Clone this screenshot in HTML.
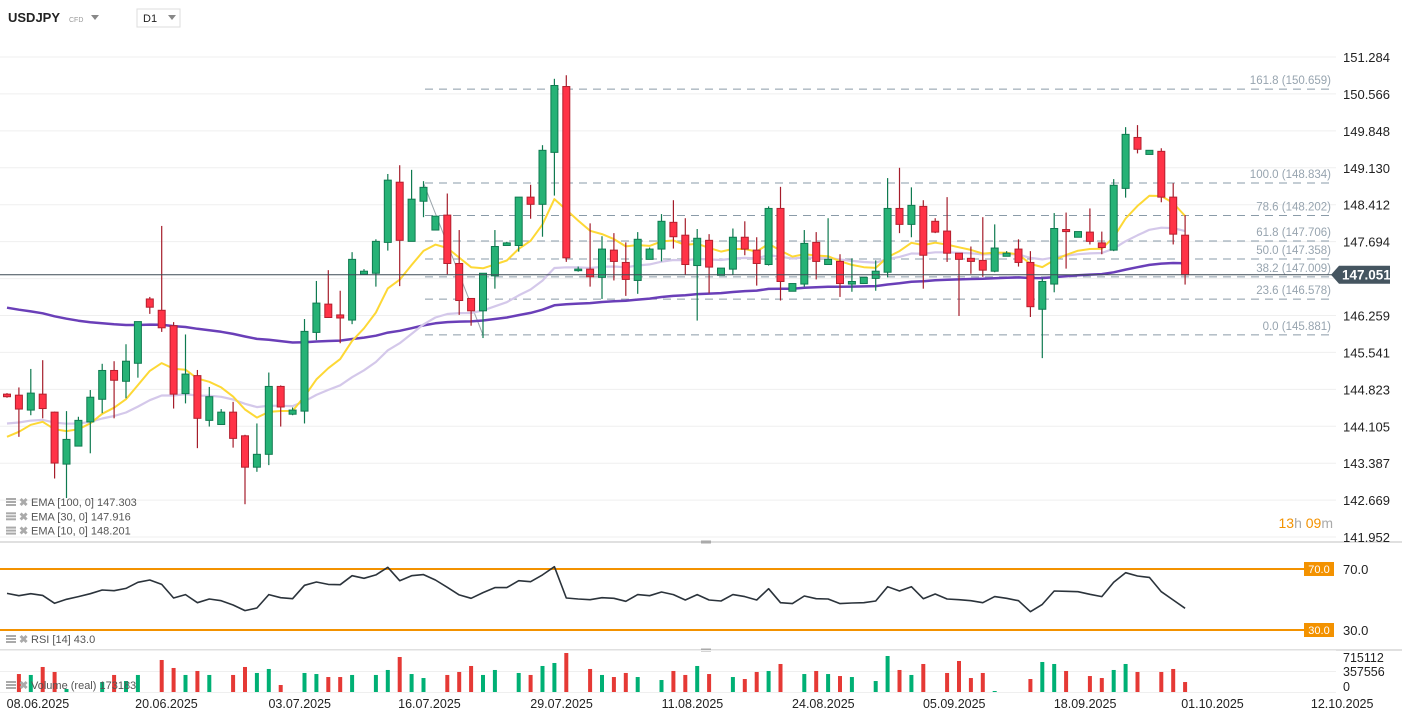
<!DOCTYPE html>
<html><head><meta charset="utf-8">
<style>
html,body{margin:0;padding:0;background:#fff;width:1402px;height:725px;overflow:hidden;font-family:"Liberation Sans",sans-serif;}
svg{position:absolute;left:0;top:0;}
text{font-family:"Liberation Sans",sans-serif;}
</style></head>
<body>
<svg id="chart" width="1402" height="725" xmlns="http://www.w3.org/2000/svg">
  <g id="grid"></g>
  <g id="fibo"></g>
  <g id="emas"></g>
  <g id="candles"></g>
  <g id="axis"></g>
  <g id="rsi"></g>
  <g id="vol"></g>
  <g id="dates"></g>
  <g>
    <text x="8" y="22" font-size="13" font-weight="bold" fill="#222">USDJPY</text>
    <text x="69" y="22" font-size="7" fill="#999">CFD</text>
    <path d="M91 15 L99 15 L95 20 Z" fill="#888"/>
    <rect x="137" y="9" width="43" height="18" fill="#fff" stroke="#ddd"/>
    <text x="143" y="22" font-size="11" fill="#222">D1</text>
    <path d="M168 15 L176 15 L172 20 Z" fill="#888"/>
  </g>
  <g>
    <text x="1333" y="528" font-size="14" text-anchor="end"><tspan fill="#f39200">13</tspan><tspan fill="#aaa">h </tspan><tspan fill="#f39200">09</tspan><tspan fill="#aaa">m</tspan></text>
  </g>
  <g id="legend"></g>
</svg>
<script>
const opens=[144.73,144.71,144.42,144.73,144.38,143.37,143.72,144.19,144.63,145.19,144.98,145.33,146.58,146.36,146.06,144.74,145.09,144.22,144.14,144.38,143.92,143.31,143.56,144.88,144.34,144.40,145.93,146.48,146.27,146.17,147.06,147.08,147.68,148.85,147.70,148.48,147.92,148.21,147.27,146.59,146.35,147.03,147.62,147.62,148.56,148.42,149.43,150.71,147.13,147.16,147.00,147.53,147.29,146.94,147.35,147.55,148.07,147.82,147.23,147.72,147.04,147.16,147.78,147.53,147.25,148.34,146.73,146.87,147.68,147.25,147.31,146.87,146.88,146.98,147.10,148.34,148.03,148.38,148.09,147.90,147.47,147.37,147.33,147.12,147.41,147.55,147.29,146.38,146.87,147.93,147.78,147.88,147.67,147.53,148.73,149.72,149.39,149.45,148.56,147.82];
const highs=[144.75,144.86,145.22,145.39,144.39,144.40,144.29,144.81,145.32,145.37,145.70,146.14,146.62,148.00,146.13,145.89,145.20,144.87,144.44,144.58,143.94,144.16,145.15,144.90,144.47,146.19,146.93,147.14,146.74,147.49,147.16,147.74,149.01,149.18,149.09,148.87,148.19,148.63,147.92,146.59,147.08,147.92,147.69,148.56,148.80,149.57,150.86,150.93,147.21,148.05,147.80,147.86,147.68,147.88,147.58,148.23,148.50,148.15,147.94,147.84,147.18,147.95,148.09,147.78,148.38,148.76,146.88,147.92,147.88,148.15,147.45,147.37,147.00,147.33,148.93,149.13,148.75,148.50,148.15,148.56,147.47,147.60,148.17,148.03,147.51,147.74,147.51,146.98,148.25,148.26,147.89,148.34,147.89,148.91,149.92,149.96,149.47,149.51,148.83,148.21];
const lows=[144.66,143.90,144.32,144.26,143.09,142.71,143.72,143.58,144.36,144.26,144.65,145.05,146.29,145.94,144.45,144.55,143.68,144.10,144.14,143.69,142.59,143.22,143.35,144.10,144.32,144.16,145.78,146.21,145.72,146.09,147.06,146.82,147.52,146.83,147.70,148.17,147.92,147.06,146.27,146.06,145.82,146.78,147.62,147.50,148.14,147.79,148.59,147.30,147.11,146.82,146.58,146.94,146.64,146.68,147.35,147.31,147.56,147.05,146.16,146.69,147.04,147.05,147.43,146.84,147.23,146.55,146.73,146.82,146.96,147.25,146.62,146.72,146.88,146.74,147.00,147.86,147.78,146.78,147.86,147.30,146.25,147.07,147.01,147.10,147.41,147.21,146.23,145.43,146.71,147.17,147.78,147.64,147.45,147.51,148.55,149.41,149.39,148.46,147.64,146.86];
const closes=[144.68,144.44,144.75,144.45,143.39,143.85,144.22,144.67,145.19,145.00,145.37,146.14,146.42,146.02,144.73,145.12,144.26,144.68,144.38,143.87,143.31,143.56,144.88,144.48,144.42,145.95,146.50,146.22,146.21,147.35,147.12,147.70,148.89,147.72,148.52,148.75,148.19,147.27,146.55,146.35,147.08,147.60,147.67,148.56,148.42,149.47,150.73,147.38,147.16,147.01,147.55,147.31,146.96,147.74,147.55,148.09,147.79,147.25,147.76,147.20,147.18,147.78,147.55,147.27,148.34,146.92,146.88,147.66,147.31,147.35,146.88,146.92,147.00,147.12,148.34,148.03,148.40,147.43,147.88,147.47,147.35,147.31,147.14,147.57,147.47,147.29,146.43,146.92,147.95,147.89,147.89,147.70,147.58,148.79,149.78,149.49,149.47,148.56,147.84,147.05];
const volumesK=[0,306,290,426,341,51,0,0,170,290,187,290,0,545,409,290,358,290,0,290,426,324,392,119,0,324,306,255,255,290,0,290,375,596,306,238,0,290,341,443,290,375,0,324,290,443,494,664,0,392,290,255,324,255,0,204,358,290,443,306,0,255,221,341,358,477,0,306,358,306,272,255,0,187,613,375,290,477,0,324,528,238,324,17,0,0,221,511,477,358,0,272,238,375,477,341,0,341,392,170];
const rsiValues=[54.0,52.5,53.8,52.7,47.5,50.1,51.9,53.8,56.2,55.8,57.3,61.3,62.8,59.9,51.0,53.2,47.9,50.3,49.2,46.4,42.7,44.4,53.2,51.2,50.5,59.3,61.5,59.9,59.7,65.6,63.9,66.1,71.1,62.3,65.6,66.3,62.8,58.0,53.0,50.8,54.5,57.8,57.8,62.3,61.7,66.1,71.5,51.0,50.3,49.9,51.2,50.8,48.8,53.2,52.5,54.9,53.2,49.7,53.2,49.7,49.0,53.2,51.9,49.7,57.1,47.9,47.3,52.3,50.5,50.3,47.3,47.7,47.9,49.0,58.4,55.6,58.4,50.5,53.6,50.3,49.9,49.2,47.9,51.9,50.8,49.2,42.0,46.8,55.6,55.4,55.1,53.4,51.9,61.3,67.6,65.4,64.5,55.1,49.7,44.2];
const priceTicks=[151.284,150.566,149.848,149.130,148.412,147.694,146.976,146.259,145.541,144.823,144.105,143.387,142.669,141.952];
const fiboLevels=[161.8,100.0,78.6,61.8,50.0,38.2,23.6,0.0];
const fiboPrices=[150.659,148.834,148.202,147.706,147.358,147.009,146.578,145.881];
const emaPeriods=[100,30,10];
const emaSeeds=[146.41,144.16,143.90];
const emaLegendValues=["147.303","147.916","148.201"];
const dateLabels=["08.06.2025","20.06.2025","03.07.2025","16.07.2025","29.07.2025","11.08.2025","24.08.2025","05.09.2025","18.09.2025","01.10.2025","12.10.2025"];
const dateIndex=[2.6,13.4,24.6,35.5,46.6,57.6,68.6,79.6,90.6,101.3,112.2];
const lastPrice=147.051;
const fiboStart=35, fiboEnd=40;

const NS="http://www.w3.org/2000/svg";
const X=i=>7+11.9*i;
const Y=p=>57+(151.284-p)*51.44;
const RY=v=>569+(70-v)*1.525;
const VY=v=>692-v/715.112*42;
function mk(tag,attrs,parent){const e=document.createElementNS(NS,tag);for(const k in attrs)e.setAttribute(k,attrs[k]);parent.appendChild(e);return e;}
const G=id=>document.getElementById(id);

priceTicks.forEach(t=>{
  const l=mk('line',{x1:0,x2:1336,y1:Y(t),y2:Y(t),stroke:'#efefef','stroke-width':1},G('grid'));
  
  
  const tx=mk('text',{x:1343,y:Y(t)+5,'font-size':13,fill:'#222'},G('axis'));
  tx.textContent=t.toFixed(3);
  
  
});
[[542,'#d5d5d5'],[650,'#d5d5d5']].forEach(([y,c])=>{
  const l=mk('line',{x1:0,x2:1402,y1:y,y2:y,stroke:c,'stroke-width':1.5},G('grid'));
  
  
  const h=mk('rect',{x:701,y:y-1.5,width:10,height:3,fill:'#aaa'},G('grid'));
  
  
});

fiboPrices.forEach((p,k)=>{
  const l=mk('line',{x1:425,x2:1331,y1:Y(p),y2:Y(p),stroke:'#8a9ba8','stroke-width':1,'stroke-dasharray':'8 6'},G('fibo'));
  
  
  const t=mk('text',{x:1331,y:Y(p)-5,'font-size':11.5,fill:'#97a4af','text-anchor':'end'},G('fibo'));
  t.textContent=fiboLevels[k].toFixed(1)+' ('+p.toFixed(3)+')';
  
  
});
const tl=mk('line',{x1:X(fiboStart),y1:Y(fiboPrices[1]),x2:X(fiboEnd),y2:Y(fiboPrices[7]),stroke:'#9aa4ab','stroke-width':1},G('fibo'));



const lp=mk('line',{x1:0,x2:1336,y1:Y(lastPrice),y2:Y(lastPrice),stroke:'#3d4a55','stroke-width':1},G('axis'));


const ly=Y(lastPrice);
const lb=mk('path',{d:`M1331 ${ly} L1339 ${ly-9} L1390 ${ly-9} L1390 ${ly+9} L1339 ${ly+9} Z`,fill:'#455560'},G('axis'));


const lt=mk('text',{x:1342,y:ly+5,'font-size':13.5,'font-weight':'bold',fill:'#fff'},G('axis'));
lt.textContent=lastPrice.toFixed(3);



const emaColors=['#6a3fb8','#d4c8ea','#fdd835'];
const emaWidths=[2.5,2.2,2];
emaPeriods.forEach((per,k)=>{
  const a=2/(per+1);let e=emaSeeds[k];const pts=[];
  closes.forEach((c,i)=>{if(i>0)e=e+a*(c-e);pts.push(X(i).toFixed(1)+','+Y(e).toFixed(1));});
  const pl=mk('polyline',{points:pts.join(' '),fill:'none',stroke:emaColors[k],'stroke-width':emaWidths[k],'stroke-linejoin':'round'},G('emas'));
  
  
});

closes.forEach((c,i)=>{
  const o=opens[i],up=c>=o,x=X(i);
  const wick=mk('line',{x1:x,x2:x,y1:Y(highs[i]),y2:Y(lows[i]),stroke:up?'#0f7a50':'#a51d2b','stroke-width':1.2},G('candles'));
  
  
  const top=Y(Math.max(o,c)),bot=Y(Math.min(o,c));
  const b=mk('rect',{x:x-3.5,y:top,width:7,height:Math.max(bot-top,1.5),fill:up?'#26b276':'#ff3347',stroke:up?'#0f7a50':'#b51f2e','stroke-width':1},G('candles'));
  
  
});

[[70,'70.0'],[30,'30.0']].forEach(([v,s])=>{
  const l=mk('line',{x1:0,x2:1305,y1:RY(v),y2:RY(v),stroke:'#f39200','stroke-width':2},G('rsi'));
  
  
  const r=mk('rect',{x:1304,y:RY(v)-7,width:30,height:14,fill:'#f39200'},G('rsi'));
  
  
  const t=mk('text',{x:1319,y:RY(v)+4,'font-size':11,fill:'#fff','text-anchor':'middle'},G('rsi'));
  t.textContent=s;
  
  
  const t2=mk('text',{x:1343,y:RY(v)+5,'font-size':13,fill:'#222'},G('rsi'));
  t2.textContent=s;
  
  
});
const rp=mk('polyline',{points:rsiValues.map((v,i)=>X(i).toFixed(1)+','+RY(v).toFixed(1)).join(' '),fill:'none',stroke:'#2b333b','stroke-width':1.6,'stroke-linejoin':'round'},G('rsi'));



[650,671,692].forEach(y=>{
  const l=mk('line',{x1:0,x2:1336,y1:y+0.5,y2:y+0.5,stroke:'#efefef'},G('vol'));
  
  
});
volumesK.forEach((v,i)=>{
  if(v<=0)return;
  const up=closes[i]>=opens[i];
  const r=mk('rect',{x:X(i)-2,y:VY(v),width:4,height:692-VY(v),fill:up?'#00b074':'#e53935'},G('vol'));
  
  
});
[['715112',662],['357556',676],['0',691]].forEach(([s,y])=>{
  const t=mk('text',{x:1343,y:y,'font-size':12.5,fill:'#222'},G('vol'));
  t.textContent=s;
  
  
});

dateLabels.forEach((d,k)=>{
  const x=X(dateIndex[k]);
  const t=mk('text',{x:x,y:708,'font-size':12.5,fill:'#222','text-anchor':'middle'},G('dates'));
  t.textContent=d;
  
  
});

function legendRow(y,label,name){
  const g=mk('g',{},G('legend'));
  
  
  for(let k=0;k<3;k++)mk('rect',{x:6,y:y-8+k*3,width:10,height:2,fill:'#aaa'},g);
  const xx=mk('text',{x:19,y:y,'font-size':11,fill:'#aaa','font-weight':'bold'},g);
  xx.textContent='✖';
  const t=mk('text',{x:31,y:y,'font-size':11,fill:'#555'},g);
  t.textContent=label;
}
emaPeriods.forEach((p,k)=>legendRow(506+k*14.3,'EMA ['+p+',  0] '+emaLegendValues[k],'ema-'+p+'-legend'));
legendRow(643,'RSI  [14]  43.0','rsi-legend');
legendRow(689,'Volume  (real)  173183','volume-legend');
</script>
</body></html>
